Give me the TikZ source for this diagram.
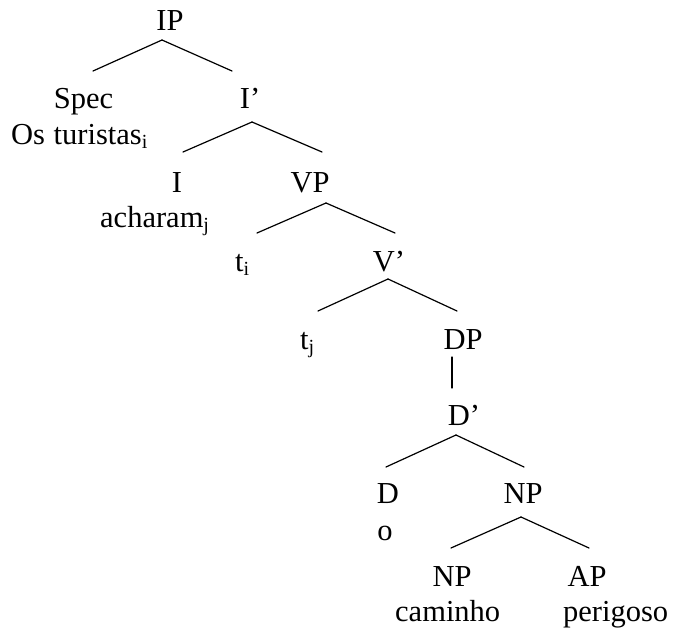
\documentclass[tikz,border=0pt]{standalone}
\usepackage{fontspec}
\setmainfont{Liberation Serif}
% small lowered index letter (coindexation)
\newcommand\idx[1]{\raisebox{-4pt}{\fontsize{20}{20}\selectfont #1}}
\begin{document}
\begin{tikzpicture}[x=1pt,y=-1pt,
  lab/.style={inner sep=0pt,anchor=base,font=\fontsize{30.5}{36}\selectfont},
  labw/.style={lab,anchor=base west},
  branch/.style={line width=1.2pt,line cap=round}]
\useasboundingbox (0,0) rectangle (673,632);

% category labels
\node[lab] (IP)  at (170,30)  {IP};
\node[lab] (Spec) at (83.5,108) {Spec};
\node[lab] (Ibar) at (250,108) {I’};
\node[lab] (I)   at (177,192) {I};
\node[lab] (VP)  at (310,192) {VP};
\node[labw] (ti) at (235,271) {t\idx{i}};
\node[lab] (Vbar) at (389,271) {V’};
\node[labw] (tj) at (300,349) {t\idx{j}};
\node[lab] (DP)  at (463,349) {DP};
\node[lab] (Dbar) at (464,425) {D’};
\node[lab] (D)   at (388,503) {D};
\node[lab] (NP)  at (523,503) {NP};
\node[lab] (NPb) at (452,586) {NP};
\node[lab] (AP)  at (587,586) {AP};

% lexical material
\node[labw] (ost)  at (11,144)  {Os\hspace{1pt} turistas\idx{i}};
\node[labw] (ach)  at (100,227) {acharam\idx{j}};
\node[lab]  (o)    at (385,540) {o};
\node[labw] (cam)  at (395,621) {caminho};
\node[labw] (per)  at (563,621) {perigoso};

% branches
\draw[branch] ([shift={(-8,10)}]IP.base) -- ([shift={(9.5,-37)}]Spec.base);
\draw[branch] ([shift={(-8,10)}]IP.base) -- ([shift={(-18,-37)}]Ibar.base);
\draw[branch] ([shift={(2,14)}]Ibar.base) -- ([shift={(6,-40)}]I.base);
\draw[branch] ([shift={(2,14)}]Ibar.base) -- ([shift={(12,-40)}]VP.base);
\draw[branch] ([shift={(16,11)}]VP.base) -- ([shift={(22,-38)}]ti.base west);
\draw[branch] ([shift={(16,11)}]VP.base) -- ([shift={(6,-38)}]Vbar.base);
\draw[branch] ([shift={(-1,8)}]Vbar.base) -- ([shift={(18,-38)}]tj.base west);
\draw[branch] ([shift={(-1,8)}]Vbar.base) -- ([shift={(-6,-38)}]DP.base);
\draw[branch] ([shift={(-11,8)}]DP.base) -- ([shift={(-12,-37)}]Dbar.base);
\draw[branch] ([shift={(-8,10)}]Dbar.base) -- ([shift={(-2,-36)}]D.base);
\draw[branch] ([shift={(-8,10)}]Dbar.base) -- ([shift={(1,-36)}]NP.base);
\draw[branch] ([shift={(-2,14)}]NP.base) -- ([shift={(-1,-38)}]NPb.base);
\draw[branch] ([shift={(-2,14)}]NP.base) -- ([shift={(2,-38)}]AP.base);
\end{tikzpicture}
\end{document}
